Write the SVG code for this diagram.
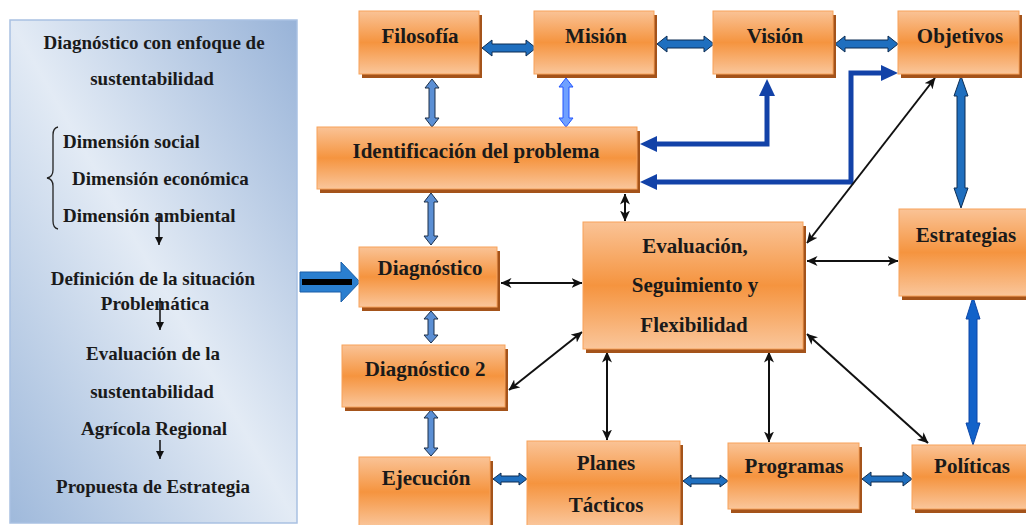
<svg xmlns="http://www.w3.org/2000/svg" width="1026" height="525" viewBox="0 0 1026 525">
<defs>
<linearGradient id="og" x1="0" y1="0" x2="0" y2="1">
<stop offset="0" stop-color="#fac396"/>
<stop offset="0.5" stop-color="#f5943f"/>
<stop offset="1" stop-color="#fac69b"/>
</linearGradient>
<linearGradient id="bg" x1="0" y1="1" x2="1" y2="0">
<stop offset="0" stop-color="#9fb9db"/>
<stop offset="0.5" stop-color="#e3ebf5"/>
<stop offset="1" stop-color="#98b3d8"/>
</linearGradient>
<marker id="ah" viewBox="0 0 11 10" markerWidth="11" markerHeight="10" refX="10.5" refY="5" orient="auto-start-reverse" markerUnits="userSpaceOnUse">
<path d="M0,0 L11,5 L0,10 L3,5 z" fill="#111"/>
</marker>
<marker id="sh" viewBox="0 0 8 8" markerWidth="8" markerHeight="8" refX="8" refY="4" orient="auto" markerUnits="userSpaceOnUse">
<path d="M0,0 L8,4 L0,8 z" fill="#111"/>
</marker>
</defs>
<style>
.box rect.s{fill:#a4531a}
.box rect.b{fill:url(#og);stroke:#f7a25a;stroke-width:1}
text{font-family:'Liberation Serif','DejaVu Serif','Times New Roman',serif;font-weight:bold;fill:#1a1a1a;text-anchor:middle}
.bt{font-size:21px}
.lt{font-size:19px}
.blk{stroke:#111;stroke-width:2;fill:none;marker-start:url(#ah);marker-end:url(#ah)}
.dh{fill:#1f6fbf;stroke:#0d2d52;stroke-width:1}
.lv{fill:#5b8fd4;stroke:#1c2f48;stroke-width:1}
.bl{stroke:#1242a8;stroke-width:5;fill:none}
.blh{fill:#1242a8}
</style>

<g id="panel" font-family="Liberation Serif, serif">
<rect x="10" y="20" width="287" height="503" fill="url(#bg)" stroke="#a9c1e2" stroke-width="1.5"/>
<text class="lt" x="154" y="49">Diagnóstico con enfoque de</text>
<text class="lt" x="152" y="85">sustentabilidad</text>
<path d="M58,127 Q53,128 53,135 L53,170 Q53,177 47,178 Q53,179 53,186 L53,221 Q53,228 58,229" fill="none" stroke="#222" stroke-width="1.3"/>
<text class="lt" x="63" y="148" style="text-anchor:start">Dimensión social</text>
<text class="lt" x="72" y="185" style="text-anchor:start">Dimensión económica</text>
<text class="lt" x="63" y="222" style="text-anchor:start">Dimensión ambiental</text>
<line x1="159" y1="213" x2="159" y2="245" stroke="#111" stroke-width="1.5" marker-end="url(#sh)"/>
<text class="lt" x="153" y="285">Definición de la situación</text>
<text class="lt" x="155" y="310">Problemática</text>
<line x1="160" y1="298" x2="160" y2="330" stroke="#111" stroke-width="1.5" marker-end="url(#sh)"/>
<text class="lt" x="153" y="360">Evaluación de la</text>
<text class="lt" x="152" y="398">sustentabilidad</text>
<text class="lt" x="154" y="435">Agrícola Regional</text>
<line x1="160" y1="440" x2="160" y2="459" stroke="#111" stroke-width="1.5" marker-end="url(#sh)"/>
<text class="lt" x="153" y="493">Propuesta de Estrategia</text>
</g>

<g id="input-arrow">
<path d="M300,272 L341,272 L341,262 L360,282 L341,302 L341,292 L300,292 Z" fill="#2a7fd0" stroke="#1a5fa8" stroke-width="1"/>
<line x1="302" y1="282" x2="352" y2="282" stroke="#000" stroke-width="6"/>
</g>

<g id="connectors">
<path class="dh" d="M482,48 L492,40 L492,44 L526,44 L526,40 L536,48 L526,56 L526,52 L492,52 L492,56 Z"/>
<path class="dh" d="M657,44 L667,36 L667,40 L704,40 L704,36 L714,44 L704,52 L704,48 L667,48 L667,52 Z"/>
<path class="dh" d="M835,44 L845,36 L845,40 L888,40 L888,36 L898,44 L888,52 L888,48 L845,48 L845,52 Z"/>
<path class="dh" d="M493,479 L501,473 L501,476 L519,476 L519,473 L527,479 L519,485 L519,482 L501,482 L501,485 Z"/>
<path class="dh" d="M683,481 L691,475 L691,478 L720,478 L720,475 L728,481 L720,487 L720,484 L691,484 L691,487 Z"/>
<path class="dh" d="M862,479 L871,472 L871,476 L903,476 L903,472 L912,479 L903,486 L903,482 L871,482 L871,486 Z"/>
<path class="lv" d="M432,79 L439,88 L435,88 L435,118 L439,118 L432,127 L425,118 L429,118 L429,88 L425,88 Z"/>
<path d="M566,78 L573,87 L569,87 L569,118 L573,118 L566,127 L559,118 L563,118 L563,87 L559,87 Z" fill="#6fa0ff" stroke="#2255ff" stroke-width="1"/>
<path class="lv" d="M431,193 L438,202 L434,202 L434,236 L438,236 L431,245 L424,236 L428,236 L428,202 L424,202 Z"/>
<path class="lv" d="M431,311 L438,319 L434,319 L434,335 L438,335 L431,343 L424,335 L428,335 L428,319 L424,319 Z"/>
<path class="lv" d="M431,410 L438,418 L434,418 L434,448 L438,448 L431,456 L424,448 L428,448 L428,418 L424,418 Z"/>
<path class="dh" d="M961,76 L968,96 L965,96 L965,188 L968,188 L961,208 L954,188 L957,188 L957,96 L954,96 Z"/>
<path d="M973,297 L980,319 L977,319 L977,423 L980,423 L973,445 L966,423 L969,423 L969,319 L966,319 Z" fill="#1262c9" stroke="#0d47a8" stroke-width="1"/>
<path class="bl" d="M656,144 H767 V95"/>
<polygon class="blh" points="640,144 657,136 657,152"/>
<polygon class="blh" points="767,79 759,96 775,96"/>
<path class="bl" d="M656,182 H851 V73 H882"/>
<polygon class="blh" points="640,182 657,174 657,190"/>
<polygon class="blh" points="898,73 881,65 881,81"/>
<line class="blk" x1="625" y1="194" x2="625" y2="221"/>
<line class="blk" x1="501" y1="283" x2="582" y2="283"/>
<line class="blk" x1="582" y1="332" x2="509" y2="390"/>
<line class="blk" x1="807" y1="243" x2="935" y2="78"/>
<line class="blk" x1="807" y1="261" x2="898" y2="261"/>
<line class="blk" x1="607" y1="352" x2="607" y2="440"/>
<line class="blk" x1="769" y1="352" x2="769" y2="442"/>
<line class="blk" x1="807" y1="334" x2="928" y2="443"/>
</g>

<g id="filosofia" class="box"><rect class="s" x="362" y="15" width="120" height="63"/><rect class="b" x="359" y="11" width="120" height="63"/><text class="bt" x="420" y="43">Filosofía</text></g>
<g id="mision" class="box"><rect class="s" x="537" y="15" width="120" height="63"/><rect class="b" x="534" y="11" width="120" height="63"/><text class="bt" x="596" y="43">Misión</text></g>
<g id="vision" class="box"><rect class="s" x="716" y="15" width="120" height="63"/><rect class="b" x="713" y="11" width="120" height="63"/><text class="bt" x="775" y="43">Visión</text></g>
<g id="objetivos" class="box"><rect class="s" x="901" y="15" width="121" height="63"/><rect class="b" x="898" y="11" width="121" height="63"/><text class="bt" x="960" y="43">Objetivos</text></g>
<g id="identificacion" class="box"><rect class="s" x="320" y="131" width="320" height="62"/><rect class="b" x="317" y="127" width="320" height="62"/><text class="bt" x="476" y="158">Identificación del problema</text></g>
<g id="diagnostico" class="box"><rect class="s" x="362" y="251" width="138" height="60"/><rect class="b" x="359" y="247" width="138" height="60"/><text class="bt" x="430" y="275">Diagnóstico</text></g>
<g id="evaluacion" class="box"><rect class="s" x="586" y="226" width="220" height="127"/><rect class="b" x="583" y="222" width="220" height="127"/><text class="bt" x="695" y="253">Evaluación,</text><text class="bt" x="695" y="292">Seguimiento y</text><text class="bt" x="694" y="332">Flexibilidad</text></g>
<g id="estrategias" class="box"><rect class="s" x="902" y="213" width="130" height="87"/><rect class="b" x="899" y="209" width="130" height="87"/><text class="bt" x="966" y="242">Estrategias</text></g>
<g id="diagnostico2" class="box"><rect class="s" x="345" y="349" width="163" height="62"/><rect class="b" x="342" y="345" width="163" height="62"/><text class="bt" x="425" y="376">Diagnóstico 2</text></g>
<g id="ejecucion" class="box"><rect class="s" x="362" y="461" width="131" height="70"/><rect class="b" x="359" y="457" width="131" height="70"/><text class="bt" x="426" y="485">Ejecución</text></g>
<g id="planes" class="box"><rect class="s" x="530" y="445" width="153" height="85"/><rect class="b" x="527" y="441" width="153" height="85"/><text class="bt" x="606" y="470">Planes</text><text class="bt" x="606" y="512">Tácticos</text></g>
<g id="programas" class="box"><rect class="s" x="731" y="447" width="131" height="66"/><rect class="b" x="728" y="443" width="131" height="66"/><text class="bt" x="794" y="473">Programas</text></g>
<g id="politicas" class="box"><rect class="s" x="915" y="449" width="120" height="64"/><rect class="b" x="912" y="445" width="120" height="64"/><text class="bt" x="972" y="473">Políticas</text></g>
</svg>
